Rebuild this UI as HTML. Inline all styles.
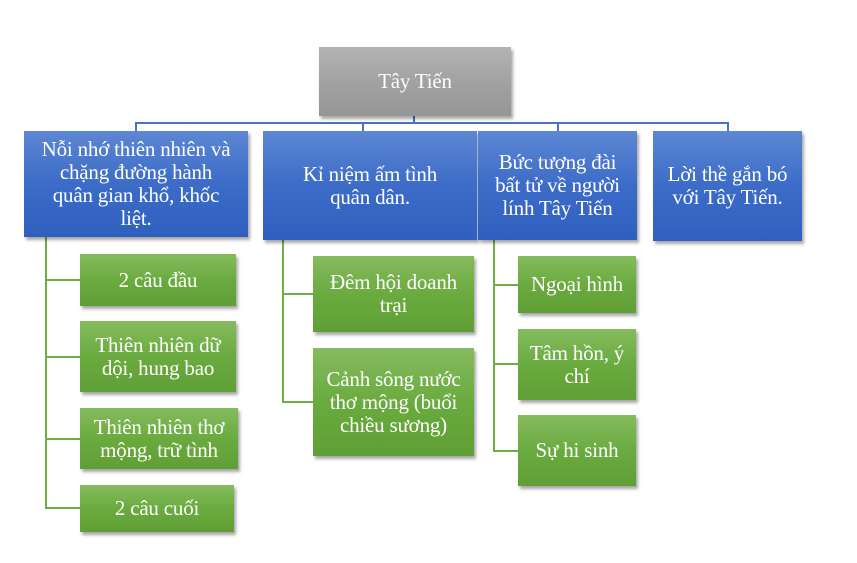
<!DOCTYPE html>
<html><head><meta charset="utf-8"><style>
body{margin:0;width:857px;height:563px;background:#fff;position:relative;overflow:hidden;font-family:"Liberation Serif","DejaVu Serif",serif;}
.b{position:absolute;display:flex;align-items:center;justify-content:center;text-align:center;color:#fff;font-size:21px;line-height:23px;box-shadow:2px 3px 3px rgba(0,0,0,0.35);box-sizing:border-box;white-space:nowrap;letter-spacing:-0.2px;}
.g{background:linear-gradient(#86bb5f,#6aab3f 50%,#5f9f35);}
.u{background:linear-gradient(#5d87d3,#3c6cc8 50%,#2f60bf);}
.t{background:linear-gradient(#b4b4b4,#a2a2a2 50%,#969696);}
.l{position:absolute;}
.bl{background:#4a72c4;}
.gl{background:#70ad47;}
</style></head><body>
<div class="l bl" style="left:413px;top:116px;width:2px;height:8px"></div>
<div class="l bl" style="left:135px;top:122px;width:594px;height:2px"></div>
<div class="l bl" style="left:135px;top:122px;width:2px;height:10px"></div>
<div class="l bl" style="left:362px;top:122px;width:2px;height:10px"></div>
<div class="l bl" style="left:557px;top:122px;width:2px;height:10px"></div>
<div class="l bl" style="left:727px;top:122px;width:2px;height:10px"></div>

<div class="l gl" style="left:45px;top:237px;width:2px;height:272px"></div>
<div class="l gl" style="left:45px;top:279px;width:35px;height:2px"></div>
<div class="l gl" style="left:45px;top:356px;width:35px;height:2px"></div>
<div class="l gl" style="left:45px;top:438px;width:35px;height:2px"></div>
<div class="l gl" style="left:45px;top:507px;width:35px;height:2px"></div>

<div class="l gl" style="left:282px;top:240px;width:2px;height:163px"></div>
<div class="l gl" style="left:282px;top:293px;width:31px;height:2px"></div>
<div class="l gl" style="left:282px;top:401px;width:31px;height:2px"></div>

<div class="l gl" style="left:493px;top:240px;width:2px;height:212px"></div>
<div class="l gl" style="left:493px;top:284px;width:25px;height:2px"></div>
<div class="l gl" style="left:493px;top:363px;width:25px;height:2px"></div>
<div class="l gl" style="left:493px;top:450px;width:25px;height:2px"></div>

<div class="b t" style="left:319px;top:47px;width:192px;height:69px">Tây Tiến</div>

<div class="b u" style="left:24px;top:131px;width:224px;height:106px">Nỗi nhớ thiên nhiên và<br>chặng đường hành<br>quân gian khổ, khốc<br>liệt.</div>
<div class="b u" style="left:263px;top:131px;width:214px;height:109px">Kỉ niệm ấm tình<br>quân dân.</div>
<div class="b u" style="left:478px;top:131px;width:159px;height:109px">Bức tượng đài<br>bất tử về người<br>lính Tây Tiến</div>
<div class="b u" style="left:653px;top:131px;width:149px;height:110px">Lời thề gắn bó<br>với Tây Tiến.</div>

<div class="b g" style="left:80px;top:254px;width:156px;height:52px">2 câu đầu</div>
<div class="b g" style="left:80px;top:321px;width:156px;height:71px">Thiên nhiên dữ<br>dội, hung bao</div>
<div class="b g" style="left:80px;top:408px;width:158px;height:61px">Thiên nhiên thơ<br>mộng, trữ tình</div>
<div class="b g" style="left:80px;top:485px;width:154px;height:47px">2 câu cuối</div>

<div class="b g" style="left:313px;top:256px;width:161px;height:76px">Đêm hội doanh<br>trại</div>
<div class="b g" style="left:313px;top:348px;width:161px;height:108px">Cảnh sông nước<br>thơ mộng (buổi<br>chiều sương)</div>

<div class="b g" style="left:518px;top:256px;width:118px;height:57px">Ngoại hình</div>
<div class="b g" style="left:518px;top:329px;width:118px;height:71px">Tâm hồn, ý<br>chí</div>
<div class="b g" style="left:518px;top:415px;width:118px;height:71px">Sự hi sinh</div>
</body></html>
